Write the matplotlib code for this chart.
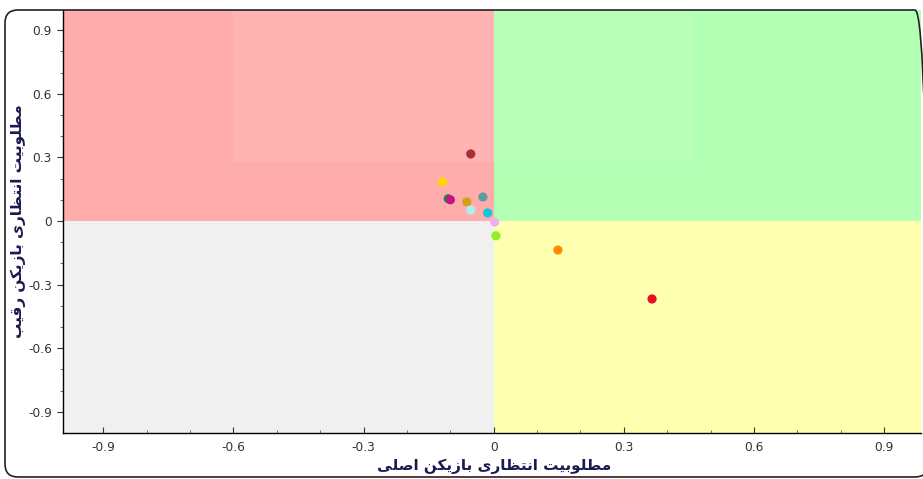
import matplotlib
matplotlib.use("Agg")
import matplotlib.pyplot as plt
from matplotlib.patches import Rectangle, FancyBboxPatch

# ---------------- data ----------------
x_label = "مطلوبیت انتظاری بازیکن اصلی"
y_label = "مطلوبیت انتظاری بازیکن رقیب"
tick_values = [-0.9, -0.6, -0.3, 0, 0.3, 0.6, 0.9]
tick_labels = ["-0.9", "-0.6", "-0.3", "0", "0.3", "0.6", "0.9"]
point_x = [-0.053, -0.118, -0.105, -0.10, -0.062, -0.025, -0.053, -0.014, 0.002, 0.005, 0.148, 0.365]
point_y = [0.316, 0.184, 0.105, 0.10, 0.09, 0.113, 0.052, 0.038, -0.005, -0.07, -0.137, -0.368]
point_colors = ["#A83030", "#FFD700", "#1E8C3A", "#C8108A", "#D4A017", "#5F9EA0",
                "#AFEEEE", "#10C8D8", "#F0B0F0", "#90F020", "#FF8C00", "#E81020"]

# ------------- simple Persian shaping (presentation forms + RTL order) -------------
FORMS = {
    "ا": ("\uFE8D", "\uFE8E", None, None),
    "ب": ("\uFE8F", "\uFE90", "\uFE91", "\uFE92"),
    "ت": ("\uFE95", "\uFE96", "\uFE97", "\uFE98"),
    "ر": ("\uFEAD", "\uFEAE", None, None),
    "ز": ("\uFEAF", "\uFEB0", None, None),
    "ص": ("\uFEB9", "\uFEBA", "\uFEBB", "\uFEBC"),
    "ط": ("\uFEC1", "\uFEC2", "\uFEC3", "\uFEC4"),
    "ظ": ("\uFEC5", "\uFEC6", "\uFEC7", "\uFEC8"),
    "ق": ("\uFED5", "\uFED6", "\uFED7", "\uFED8"),
    "ل": ("\uFEDD", "\uFEDE", "\uFEDF", "\uFEE0"),
    "م": ("\uFEE1", "\uFEE2", "\uFEE3", "\uFEE4"),
    "ن": ("\uFEE5", "\uFEE6", "\uFEE7", "\uFEE8"),
    "و": ("\uFEED", "\uFEEE", None, None),
    "ک": ("\uFB8E", "\uFB8F", "\uFB90", "\uFB91"),
    "ی": ("\uFBFC", "\uFBFD", "\uFBFE", "\uFBFF"),
}


def shape(text):
    out = []
    n = len(text)
    for i, ch in enumerate(text):
        if ch not in FORMS:
            out.append(ch)
            continue
        iso, fin, ini, med = FORMS[ch]
        prev = text[i - 1] if i > 0 else None
        nxt = text[i + 1] if i < n - 1 else None
        jp = prev in FORMS and FORMS[prev][2] is not None
        jn = ini is not None and nxt in FORMS
        if jp and jn:
            out.append(med)
        elif jp:
            out.append(fin)
        elif jn:
            out.append(ini)
        else:
            out.append(iso)
    return "".join(out)[::-1]


# ---------------- figure ----------------
W, H = 923, 479
fig = plt.figure(figsize=(W / 100, H / 100), dpi=100)
fig.patch.set_facecolor("white")

ax_l, ax_r, ax_t, ax_b = 63, 921, 10, 433
ax = fig.add_axes([ax_l / W, 1 - ax_b / H, (ax_r - ax_l) / W, (ax_b - ax_t) / H])
xmin, xmax, ymin, ymax = -0.993, 0.985, -1.0, 0.995
ax.set_xlim(xmin, xmax)
ax.set_ylim(ymin, ymax)

# quadrant backgrounds
ax.add_patch(Rectangle((xmin, 0), 0 - xmin, ymax, color="#FFACAC", zorder=0, lw=0))
ax.add_patch(Rectangle((0, 0), xmax, ymax, color="#B3FFB3", zorder=0, lw=0))
ax.add_patch(Rectangle((xmin, ymin), 0 - xmin, -ymin, color="#F0F0F0", zorder=0, lw=0))
ax.add_patch(Rectangle((0, ymin), xmax, -ymin, color="#FFFFB0", zorder=0, lw=0))
# faint light band (scan watermark area)
ax.add_patch(Rectangle((-0.6, 0.28), 1.06, ymax - 0.28, color="white",
                       alpha=0.09, zorder=0.5, lw=0))

ax.scatter(point_x, point_y, c=point_colors, s=44, zorder=3, linewidths=0)

for s in ["top", "right"]:
    ax.spines[s].set_visible(False)
for s in ["left", "bottom"]:
    ax.spines[s].set_color("black")
    ax.spines[s].set_linewidth(1.0)

ax.set_xticks(tick_values)
ax.set_xticklabels(tick_labels)
ax.set_yticks(tick_values)
ax.set_yticklabels(tick_labels)
minor = [round(-0.9 + 0.1 * i, 1) for i in range(19)]
ax.set_xticks(minor, minor=True)
ax.set_yticks(minor, minor=True)
ax.tick_params(axis="both", which="major", labelsize=8.8, colors="#333333", length=4)
ax.tick_params(axis="both", which="minor", length=2, colors="#555555")
ax.tick_params(axis="x", which="both", direction="in", pad=6)
ax.tick_params(axis="y", which="both", direction="out", pad=4)

fig.text(494 / W, 1 - 466 / H, shape(x_label), ha="center", va="center",
         fontsize=11, fontweight="bold", color="#1A1A50", family="DejaVu Sans")
fig.text(18 / W, 1 - 221 / H, shape(y_label), ha="center", va="center", rotation=90,
         fontsize=11, fontweight="bold", color="#1A1A50", family="DejaVu Sans")

# rounded outer frame, drawn in inch coordinates (1 inch = 100 px)
frame = FancyBboxPatch((5 / 100, (H - 477) / 100), (928 - 5) / 100, (477 - 10) / 100,
                       boxstyle="round,pad=0,rounding_size=0.13",
                       transform=fig.dpi_scale_trans, fill=False, ec="#222222", lw=1.2,
                       zorder=10)
fig.patches.append(frame)

fig.savefig("out.png", dpi=100)
